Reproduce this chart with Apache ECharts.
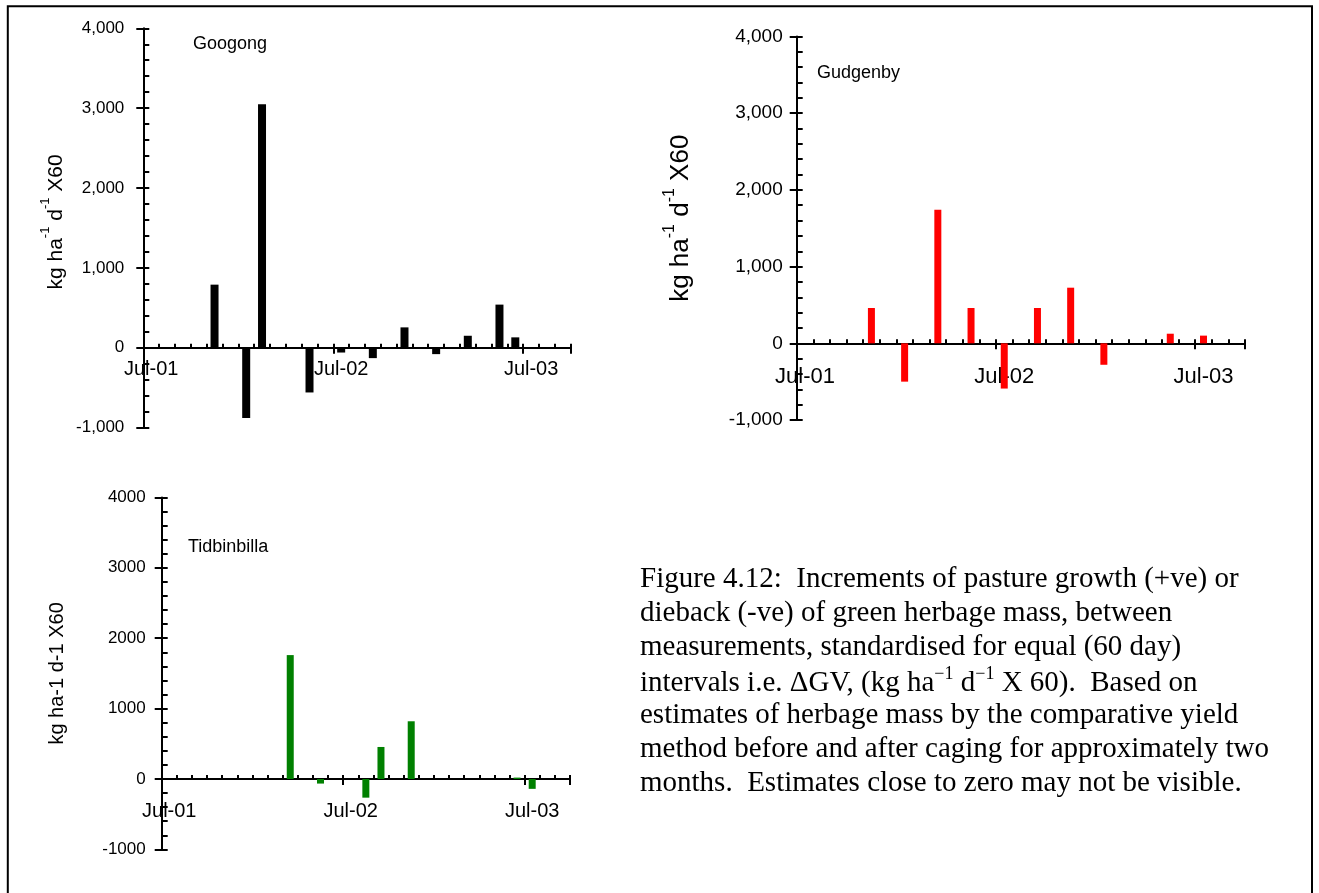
<!DOCTYPE html>
<html>
<head>
<meta charset="utf-8">
<script src="https://cdn.jsdelivr.net/npm/echarts@6/dist/echarts.min.js"></script>
<style>
  html, body { margin: 0; padding: 0; background: #ffffff; }
  #chart { width: 1319px; height: 893px; }
</style>
</head>
<body>
<div id="chart"></div>
<script>
// Month slots on the shared date axis (Jul-01 .. Sep-03); each bar sits in its measurement month
const months = ['Jul-01','Aug-01','Sep-01','Oct-01','Nov-01','Dec-01','Jan-02','Feb-02','Mar-02','Apr-02','May-02','Jun-02',
                'Jul-02','Aug-02','Sep-02','Oct-02','Nov-02','Dec-02','Jan-03','Feb-03','Mar-03','Apr-03','May-03','Jun-03',
                'Jul-03','Aug-03','Sep-03'];

// ΔGV increments, kg ha-1 d-1 x 60
const googongMonths = ['Nov-01','Jan-02','Feb-02','May-02','Jul-02','Sep-02','Nov-02','Jan-03','Mar-03','May-03','Jun-03'];
const googongValues = [790, -880, 3050, -560, -60, -130, 255, -80, 150, 540, 130];

const gudgenbyMonths = ['Nov-01','Jan-02','Mar-02','May-02','Jul-02','Sep-02','Nov-02','Jan-03','May-03','Jul-03'];
const gudgenbyValues = [460, -500, 1740, 460, -590, 460, 725, -280, 125, 100];

const tidbinbillaMonths = ['Mar-02','May-02','Aug-02','Sep-02','Nov-02','Jun-03','Jul-03'];
const tidbinbillaValues = [1760, -65, -265, 455, 820, 20, -140];

const captionLines = [
  'Figure 4.12:  Increments of pasture growth (+ve) or',
  'dieback (-ve) of green herbage mass, between',
  'measurements, standardised for equal (60 day)',
  '{t|intervals i.e. ΔGV, (kg ha}{s|−1}{t| d}{s|−1}{t| X 60).  Based on}',
  'estimates of herbage mass by the comparative yield',
  'method before and after caging for approximately two',
  'months.  Estimates close to zero may not be visible.'
];

const Y_MIN = -1000, Y_MAX = 4000, Y_STEP = 1000;

// place each value into its month slot
function slotData(ms, vs) {
  const d = months.map(() => null);
  ms.forEach((m, i) => { d[months.indexOf(m)] = vs[i]; });
  return d;
}

const SANS = '"Liberation Sans", Arial, sans-serif';
const SERIF = '"Liberation Serif", "Times New Roman", serif';

const panels = [
  { title: 'Googong', months: googongMonths, values: googongValues, color: '#000000',
    grid: { left: 143.3, top: 28.3, width: 427.4, height: 399.3 },
    yFont: 17, yMargin: 19, xFont: 20, xMargin: 12, barWidth: 8,
    name: '{n|kg ha}{s|-1}{n| d}{s|-1}{n| X60}', nameFont: 21, nameGap: 77, namePad: 12, comma: true,
    titlePos: [193, 44], titleFont: 18 },
  { title: 'Gudgenby', months: gudgenbyMonths, values: gudgenbyValues, color: '#ff0000',
    grid: { left: 796.7, top: 36.5, width: 448.3, height: 383.5 },
    yFont: 19, yMargin: 14, xFont: 22, xMargin: 23, barWidth: 7,
    name: '{n|kg ha}{s|-1}{n| d}{s|-1}{n| X60}', nameFont: 26, nameGap: 103, namePad: 20, comma: true,
    titlePos: [817, 73], titleFont: 18 },
  { title: 'Tidbinbilla', months: tidbinbillaMonths, values: tidbinbillaValues, color: '#008000',
    grid: { left: 161.7, top: 497.4, width: 408.3, height: 352 },
    yFont: 17, yMargin: 16, xFont: 20, xMargin: 22, barWidth: 7,
    name: '{n|kg ha-1 d-1 X60}', nameFont: 20, nameGap: 94, namePad: 0, comma: false,
    titlePos: [188, 547], titleFont: 18 }
];

const grids = [], xAxes = [], yAxes = [], series = [];

panels.forEach((p, i) => {
  const g = p.grid;
  grids[i] = { left: g.left, top: g.top, width: g.width, height: g.height, containLabel: false };
  // thin strip whose bottom edge is the zero line: carries the month labels and July ticks
  const zeroY = g.top + g.height * (Y_MAX - 0) / (Y_MAX - Y_MIN);
  grids[3 + i] = { left: g.left, top: zeroY - 20, width: g.width, height: 20, containLabel: false };

  // main value axis: line, labels and outward major ticks
  yAxes[i] = {
    type: 'value', gridIndex: i, position: 'left',
    min: Y_MIN, max: Y_MAX, interval: Y_STEP,
    axisLine: { show: true, onZero: false, lineStyle: { color: '#000', width: 2 } },
    axisTick: { show: true, inside: false, length: 7, lineStyle: { color: '#000', width: 2 } },
    axisLabel: {
      color: '#000', fontFamily: SANS, fontSize: p.yFont, margin: p.yMargin,
      formatter: v => p.comma ? v.toLocaleString('en-US') : String(v)
    },
    splitLine: { show: false },
    name: p.name, nameLocation: 'middle', nameRotate: 90, nameGap: p.nameGap,
    nameTextStyle: {
      color: '#000', fontFamily: SANS, fontSize: p.nameFont,
      padding: [0, 0, 0, p.namePad],
      rich: {
        n: { fontFamily: SANS, fontSize: p.nameFont, color: '#000', lineHeight: p.nameFont + 6, verticalAlign: 'bottom' },
        s: { fontFamily: SANS, fontSize: Math.round(p.nameFont * 0.62), color: '#000', lineHeight: Math.round(p.nameFont * 0.62), verticalAlign: 'top' }
      }
    }
  };
  // companion value axis: inward major ticks plus 200-unit minor ticks
  yAxes[3 + i] = {
    type: 'value', gridIndex: i, position: 'left',
    min: Y_MIN, max: Y_MAX, interval: Y_STEP,
    axisLine: { show: false, onZero: false },
    axisTick: { show: true, inside: true, length: 6, lineStyle: { color: '#000', width: 2 } },
    minorTick: { show: true, splitNumber: 5, length: 6, lineStyle: { color: '#000', width: 2 } },
    axisLabel: { show: false },
    splitLine: { show: false }
  };
  // placeholder value axis for the label strip
  yAxes[6 + i] = { type: 'value', gridIndex: 3 + i, show: false, min: 0, max: 1 };

  // month axis on the zero line: line and upward monthly ticks
  xAxes[i] = {
    type: 'category', gridIndex: i, position: 'bottom', data: months, boundaryGap: true,
    axisLine: { show: true, onZero: true, onZeroAxisIndex: i, lineStyle: { color: '#000', width: 2 } },
    axisTick: { show: true, interval: 0, inside: true, length: 4, lineStyle: { color: '#000', width: 2 } },
    axisLabel: { show: false },
    splitLine: { show: false }
  };
  // month labels and downward July ticks along the zero line
  xAxes[3 + i] = {
    type: 'category', gridIndex: 3 + i, position: 'bottom', data: months, boundaryGap: true,
    axisLine: { show: false },
    axisTick: { show: true, interval: 11, inside: false, length: 6, lineStyle: { color: '#000', width: 2 } },
    axisLabel: { interval: 11, color: '#000', fontFamily: SANS, fontSize: p.xFont, margin: p.xMargin },
    splitLine: { show: false }
  };

  series.push({
    type: 'bar', name: p.title, xAxisIndex: i, yAxisIndex: i,
    data: slotData(p.months, p.values),
    barWidth: p.barWidth, itemStyle: { color: p.color }, z: 1
  });
});

const graphicElements = [
  { type: 'rect', silent: true, z: 100,
    shape: { x: 7.8, y: 6.2, width: 1304.2, height: 900 },
    style: { fill: 'none', stroke: '#000', lineWidth: 2 } }
];

panels.forEach(p => {
  graphicElements.push({
    type: 'text', silent: true, x: p.titlePos[0], y: p.titlePos[1],
    style: { text: p.title, fill: '#000', fontFamily: SANS, fontSize: p.titleFont, align: 'left', verticalAlign: 'middle' }
  });
});

captionLines.forEach((line, k) => {
  graphicElements.push({
    type: 'text', silent: true, x: 640, y: 579 + k * 34.1,
    style: {
      text: line, fill: '#000', fontFamily: SERIF, fontSize: 29, align: 'left', verticalAlign: 'middle',
      rich: {
        t: { fontFamily: SERIF, fontSize: 29, fill: '#000', lineHeight: 33, verticalAlign: 'bottom' },
        s: { fontFamily: SERIF, fontSize: 18, fill: '#000', lineHeight: 18, verticalAlign: 'top' }
      }
    }
  });
});

const chart = echarts.init(document.getElementById('chart'), null, { renderer: 'canvas' });
chart.setOption({
  animation: false,
  backgroundColor: '#ffffff',
  grid: grids,
  xAxis: xAxes,
  yAxis: yAxes,
  series: series,
  graphic: { elements: graphicElements }
});
</script>
</body>
</html>
